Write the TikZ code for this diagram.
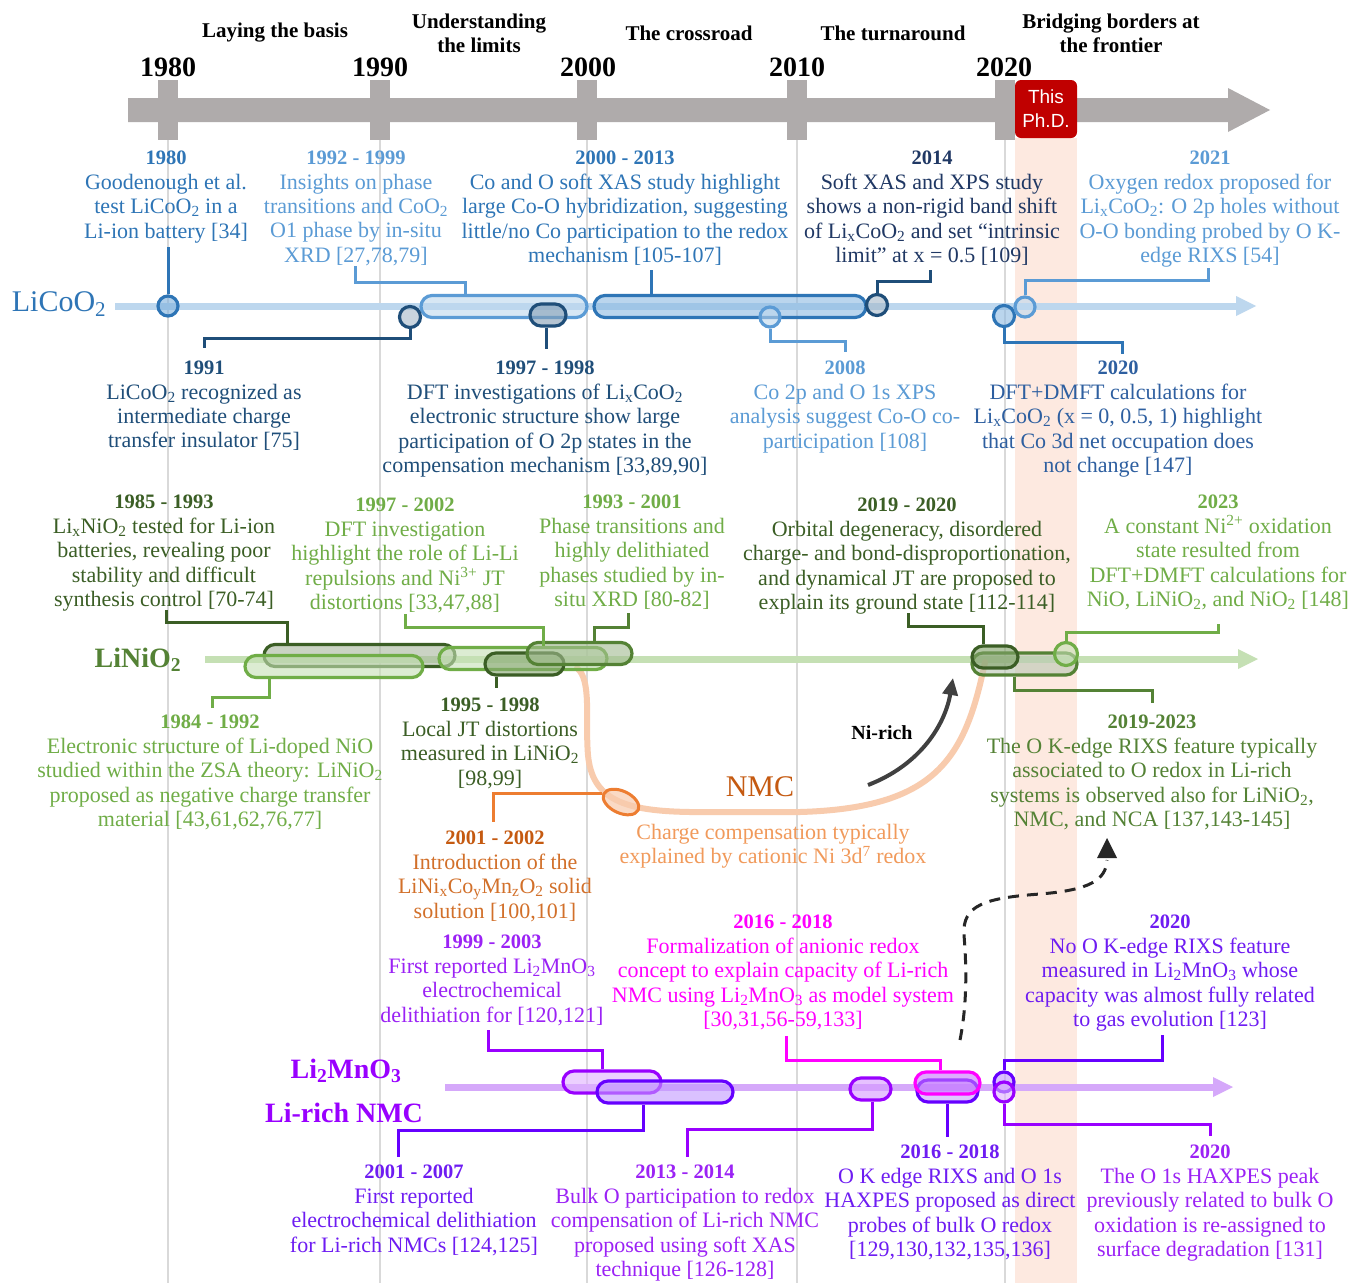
\documentclass[tikz,border=0pt]{standalone}
\usepackage{fontspec}
\setmainfont{Liberation Serif}
\newfontfamily\sansf{Liberation Sans}
\usetikzlibrary{arrows.meta,shapes.misc,shapes.geometric}
\definecolor{gry}{HTML}{AFABAB}
\definecolor{gridc}{HTML}{D9D9D9}
\definecolor{phdred}{HTML}{C00000}
\definecolor{band}{HTML}{FDE9E0}
\definecolor{bA}{HTML}{2E75B6}
\definecolor{bN}{HTML}{1F4E79}
\definecolor{bL}{HTML}{5B9BD5}
\definecolor{bLine}{HTML}{BDD7EE}
\definecolor{bT}{HTML}{203864}
\definecolor{bM}{HTML}{2E5FA0}
\definecolor{gD}{HTML}{3B5E25}
\definecolor{gM}{HTML}{548235}
\definecolor{gL}{HTML}{70AD47}
\definecolor{gLine}{HTML}{C5E0B4}
\definecolor{oS}{HTML}{ED7D31}
\definecolor{oD}{HTML}{C55A11}
\definecolor{oB}{HTML}{D2702A}
\definecolor{oC}{HTML}{F8CBAD}
\definecolor{oT}{HTML}{F19A5B}
\definecolor{pV}{HTML}{9900FF}
\definecolor{pB}{HTML}{6600FF}
\definecolor{pM}{HTML}{FF00FF}
\definecolor{pLine}{HTML}{D5A8FA}
\definecolor{pVt}{HTML}{9B22F5}
\definecolor{pBt}{HTML}{6E1CF2}
\definecolor{arr}{HTML}{404040}
\newcommand{\yr}[1]{{\fontsize{20.5}{24.4}\selectfont\bfseries #1}}
\begin{document}
\begin{tikzpicture}[x=1pt,y=-1pt,
  txt/.style={align=center, inner sep=0pt, anchor=north, yshift=-3pt, font=\fontsize{22}{24.4}\selectfont},
  era/.style={align=center, inner sep=0pt, font=\fontsize{21}{24}\selectfont\bfseries},
  bigyr/.style={inner sep=0pt, font=\fontsize{28}{28}\selectfont\bfseries},
  cap/.style 2 args={rounded rectangle, draw=#1, fill=#2, fill opacity=0.6, line width=3.2pt, inner sep=0pt, minimum height=22pt},
  dot/.style 2 args={circle, draw=#1, fill=#2, fill opacity=0.6, line width=3.2pt, inner sep=0pt, minimum size=20pt},
  conn/.style={line width=3pt},
  rowlab/.style={inner sep=0pt}
]
\useasboundingbox (0,0) rectangle (1361,1283);
\fill[white] (0,0) rectangle (1361,1283);
% pink band
\fill[band] (1015,138) rectangle (1077,1283);
% grid lines
\foreach \gx in {168,380,587,797,1005} \draw[gridc, line width=1.2pt] (\gx,140) -- (\gx,1283);
% main timeline
\fill[gry] (128,98) -- (1228,98) -- (1228,88) -- (1270,110) -- (1228,132) -- (1228,122) -- (128,122) -- cycle;
\foreach \gx in {168,380,587,797,1005} \fill[gry] (\gx-10,80) rectangle (\gx+10,140);
\node[fill=phdred, rounded corners=6pt, minimum width=62pt, minimum height=58pt, inner sep=0pt, text=white, align=center, font=\sansf\fontsize{19}{24}\selectfont] (phd) at (1046,109) {This\\Ph.D.};
% eras and years
\node[era] (e1) at (275,33) {Laying the basis};
\node[era] (e2) at (479,33) {Understanding\\the limits};
\node[era] (e3) at (689,33) {The crossroad};
\node[era] (e4) at (893,33) {The turnaround};
\node[era] (e5) at (1111,33) {Bridging borders at\\the frontier};
\node[bigyr] (y1) at (168,67) {1980};
\node[bigyr] (y2) at (380,67) {1990};
\node[bigyr] (y3) at (588,67) {2000};
\node[bigyr] (y4) at (797,67) {2010};
\node[bigyr] (y5) at (1004,67) {2020};

% ===== LiCoO2 row =====
\draw[bLine, line width=7pt] (115,306) -- (1238,306);
\fill[bLine] (1236,296) -- (1256,306) -- (1236,316) -- cycle;
\node[rowlab, text=bA, font=\fontsize{30}{30}\selectfont] (lLCO) at (59,304) {LiCoO\textsubscript{2}};
\node[cap={bL}{bLine}, minimum width=166pt] (c9299) at (504,306.5) {};
\node[cap={bA}{bL!70}, minimum width=272pt] (c0013) at (730,306.5) {};
\node[cap={bN}{bN!55}, minimum width=36pt] (c9798) at (548,315) {};
\node[dot={bA}{bL!80}] (c80) at (168,306) {};
\node[dot={bN}{bN!40}, minimum size=21pt] (c91) at (410,317) {};
\node[dot={bL}{bLine}] (c08) at (770,317) {};
\node[dot={bN}{bN!40}, minimum size=21pt] (c14) at (877,305) {};
\node[dot={bA}{bL!70}, minimum size=21pt] (c20) at (1004,316) {};
\node[dot={bL}{bLine}] (c21) at (1025,307) {};
\draw[conn,bA] (c80.north) -- (168,247);
\draw[conn,bL] (c9299.north -| 465,0) |- (355,282) -- (355,266);
\draw[conn,bA] (c0013.north -| 651,0) -- (651,270);
\draw[conn,bN] (c91.south) |- (204,338) -- (204,348);
\draw[conn,bN] (c9798.south -| 546,0) -- (546,349);
\draw[conn,bL] (c08.south) |- (845,341) -- (845,352);
\draw[conn,bN] (c14.north) |- (930,281) -- (930,270);
\draw[conn,bA] (c20.south) |- (1122,342) -- (1122,354);
\draw[conn,bL] (c21.north) |- (1208,280) -- (1208,268);
\node[txt,text=bA] (t1980) at (166,148) {\yr{1980}\\Goodenough et al.\\test LiCoO\textsubscript{2} in a\\Li-ion battery [34]};
\node[txt,text=bL] (t9299) at (356,148) {\yr{1992 - 1999}\\Insights on phase\\transitions and CoO\textsubscript{2}\\O1 phase by in-situ\\XRD [27,78,79]};
\node[txt,text=bA] (t0013) at (625,148) {\yr{2000 - 2013}\\Co and O soft XAS study highlight\\large Co-O hybridization, suggesting\\little/no Co participation to the redox\\mechanism [105-107]};
\node[txt,text=bT] (t2014) at (932,148) {\yr{2014}\\Soft XAS and XPS study\\shows a non-rigid band shift\\of Li\textsubscript{x}CoO\textsubscript{2} and set “intrinsic\\limit” at x = 0.5 [109]};
\node[txt,text=bL] (t2021) at (1210,148) {\yr{2021}\\Oxygen redox proposed for\\Li\textsubscript{x}CoO\textsubscript{2}: O 2p holes without\\O-O bonding probed by O K-\\edge RIXS [54]};
\node[txt,text=bN] (t1991) at (204,358) {\yr{1991}\\LiCoO\textsubscript{2} recognized as\\intermediate charge\\transfer insulator [75]};
\node[txt,text=bN] (t9798) at (545,358) {\yr{1997 - 1998}\\DFT investigations of Li\textsubscript{x}CoO\textsubscript{2}\\electronic structure show large\\participation of O 2p states in the\\compensation mechanism [33,89,90]};
\node[txt,text=bL] (t2008) at (845,358) {\yr{2008}\\Co 2p and O 1s XPS\\analysis suggest Co-O co-\\participation [108]};
\node[txt,text=bM] (t2020) at (1118,358) {\yr{2020}\\DFT+DMFT calculations for\\Li\textsubscript{x}CoO\textsubscript{2} (x = 0, 0.5, 1) highlight\\that Co 3d net occupation does\\not change [147]};

% ===== LiNiO2 row =====
\draw[gLine, line width=7pt] (205,659) -- (1240,659);
\fill[gLine] (1238,649) -- (1258,659) -- (1238,669) -- cycle;
\node[rowlab, text=gM, font=\fontsize{28}{28}\selectfont\bfseries] (lLNO) at (138,660) {LiNiO\textsubscript{2}};
% NMC curve
\draw[oC, line width=6pt, line cap=round] (577,668) .. controls (592,680) and (585,720) .. (588,755) .. controls (592,800) and (625,811) .. (690,812) -- (800,812) .. controls (935,808) and (965,760) .. (985,662);
\node[cap={gD}{gD!45}, minimum width=191pt] (c8593) at (359.5,655.5) {};
\node[cap={gL}{gLine}, minimum width=178pt] (c8492) at (334,666.5) {};
\node[cap={gL}{gLine}, minimum width=168pt] (c9702) at (523,658.5) {};
\node[cap={gD}{gM!70}, minimum width=79pt] (c9598) at (524.5,664) {};
\node[cap={gM}{gM!55}, minimum width=105pt] (c9301) at (579.5,653.5) {};
\node[cap={gM}{gD!35}, minimum width=105pt] (c1923) at (1024.5,664) {};
\node[cap={gD}{gM!75}, minimum width=46pt] (c1920) at (995,657) {};
\node[dot={gL}{gLine}, minimum size=23pt] (c23) at (1066,654) {};
\draw[conn,gD] (c8593.north -| 287,0) |- (166,622) -- (166,610);
\draw[conn,gL] (c8492.south -| 269,0) |- (212,697) -- (212,708);
\draw[conn,gL] (c9702.north -| 543,0) |- (405,627) -- (405,614);
\draw[conn,gD] (c9598.south -| 496,0) -- (496,688);
\draw[conn,gM] (c9301.north -| 594,0) |- (628,627) -- (628,613);
\draw[conn,gD] (c1920.north -| 983,0) |- (908,626) -- (908,613);
\draw[conn,gM] (c1923.south -| 1014,0) |- (1152,690) -- (1152,703);
\draw[conn,gL] (c23.north) |- (1218,632) -- (1218,624);
\node[txt,text=gD] (t8593) at (164,492) {\yr{1985 - 1993}\\Li\textsubscript{x}NiO\textsubscript{2} tested for Li-ion\\batteries, revealing poor\\stability and difficult\\synthesis control [70-74]};
\node[txt,text=gL] (t9702) at (405,495) {\yr{1997 - 2002}\\DFT investigation\\highlight the role of Li-Li\\repulsions and Ni\textsuperscript{3+} JT\\distortions [33,47,88]};
\node[txt,text=gL] (t9301) at (632,492) {\yr{1993 - 2001}\\Phase transitions and\\highly delithiated\\phases studied by in-\\situ XRD [80-82]};
\node[txt,text=gD] (t1920) at (907,495) {\yr{2019 - 2020}\\Orbital degeneracy, disordered\\charge- and bond-disproportionation,\\and dynamical JT are proposed to\\explain its ground state [112-114]};
\node[txt,text=gL] (t2023) at (1218,492) {\yr{2023}\\A constant Ni\textsuperscript{2+} oxidation\\state resulted from\\DFT+DMFT calculations for\\NiO, LiNiO\textsubscript{2}, and NiO\textsubscript{2} [148]};
\node[txt,text=gL] (t8492) at (210,712) {\yr{1984 - 1992}\\Electronic structure of Li-doped NiO\\studied within the ZSA theory: LiNiO\textsubscript{2}\\proposed as negative charge transfer\\material [43,61,62,76,77]};
\node[txt,text=gD] (t9598) at (490,695) {\yr{1995 - 1998}\\Local JT distortions\\measured in LiNiO\textsubscript{2}\\{[}98,99]};
\node[txt,text=gM] (t1923) at (1152,712) {\yr{2019-2023}\\The O K-edge RIXS feature typically\\associated to O redox in Li-rich\\systems is observed also for LiNiO\textsubscript{2},\\NMC, and NCA [137,143-145]};

% ===== NMC =====
\node[ellipse, draw=oS, fill=oC, fill opacity=0.7, line width=3pt, minimum width=38pt, minimum height=22pt, inner sep=0pt, rotate=-25] (e0102) at (621,802) {};
\draw[conn,oS] (e0102.west) -- (493,0 |- e0102.west) -- (493,822);
\node[rowlab, text=oD, font=\fontsize{30}{30}\selectfont] (lNMC) at (760,787) {NMC};
\node[rowlab, text=black, font=\fontsize{20}{20}\selectfont\bfseries] (lNir) at (882,733) {Ni-rich};
\coordinate (nrs) at (868,785);
\coordinate (nre) at (953,678);
\draw[arr, line width=4pt, -{Triangle[length=17pt,width=15pt]}] (nrs) .. controls (920,765) and (945,725) .. (nre);
\node[txt,text=oB] (t0102) at (495,828) {{\color{oD}\yr{2001 - 2002}}\\Introduction of the\\LiNi\textsubscript{x}Co\textsubscript{y}Mn\textsubscript{z}O\textsubscript{2} solid\\solution [100,101]};
\node[txt,text=oT] (tcc) at (773,821) {Charge compensation typically\\explained by cationic Ni 3d\textsuperscript{7} redox};

% ===== Li2MnO3 row =====
\draw[pLine, line width=7pt] (445,1087) -- (1215,1087);
\fill[pLine] (1213,1077) -- (1233,1087) -- (1213,1097) -- cycle;
\node[rowlab, text=pV, font=\fontsize{28}{28}\selectfont\bfseries] (lLMO) at (346,1071) {Li\textsubscript{2}MnO\textsubscript{3}};
\node[rowlab, text=pV, font=\fontsize{28}{28}\selectfont\bfseries] (lLR) at (344,1113) {Li-rich NMC};
\node[cap={pV}{pV!30}, minimum width=98pt] (c9903) at (612,1082) {};
\node[cap={pB}{pB!40}, minimum width=136pt] (c0107) at (665,1092) {};
\node[cap={pV}{pV!40}, minimum width=41pt] (c1314) at (870.5,1089) {};
\node[cap={pB}{pB!35}, minimum width=61pt] (c1618b) at (947.5,1091) {};
\node[cap={pM}{pV!55}, minimum width=65pt] (c1618m) at (947.5,1083) {};
\node[dot={pB}{pB!40}] (c20a) at (1004,1082) {};
\node[dot={pV}{pV!30}] (c20b) at (1004,1092) {};
\draw[conn,pV] (c9903.north -| 602,0) |- (488,1050) -- (488,1030);
\draw[conn,pB] (c0107.south -| 643,0) |- (398,1130) -- (398,1157);
\draw[conn,pV] (c1314.south -| 872,0) |- (687,1129) -- (687,1157);
\draw[conn,pB] (c1618b.south -| 947,0) -- (947,1137);
\draw[conn,pM] (c1618m.north -| 940,0) |- (786,1060) -- (786,1036);
\draw[conn,pB] (c20a.north) |- (1162,1060) -- (1162,1035);
\draw[conn,pV] (c20b.south) |- (1210,1124) -- (1210,1136);
% dashed arrow
\coordinate (dsA) at (960,1040);
\coordinate (dsB) at (1107,860);
\draw[black!85, line width=3pt, dash pattern=on 11pt off 8pt] (dsA) .. controls (968,1000) and (966,960) .. (964,935) .. controls (962,905) and (985,898) .. (1040,894) .. controls (1090,890) and (1106,880) .. (dsB);
\fill[black!85] (1097,858) -- (1117,858) -- (1107,838) -- cycle;
\node[txt,text=pVt] (t9903) at (492,932) {\yr{1999 - 2003}\\First reported Li\textsubscript{2}MnO\textsubscript{3}\\electrochemical\\delithiation for [120,121]};
\node[txt,text=pM] (t1618t) at (783,912) {\yr{2016 - 2018}\\Formalization of anionic redox\\concept to explain capacity of Li-rich\\NMC using Li\textsubscript{2}MnO\textsubscript{3} as model system\\{[}30,31,56-59,133]};
\node[txt,text=pBt] (t2020t) at (1170,912) {\yr{2020}\\No O K-edge RIXS feature\\measured in Li\textsubscript{2}MnO\textsubscript{3} whose\\capacity was almost fully related\\to gas evolution [123]};
\node[txt,text=pBt] (t0107) at (414,1162) {\yr{2001 - 2007}\\First reported\\electrochemical delithiation\\for Li-rich NMCs [124,125]};
\node[txt,text=pVt] (t1314) at (685,1162) {\yr{2013 - 2014}\\Bulk O participation to redox\\compensation of Li-rich NMC\\proposed using soft XAS\\technique [126-128]};
\node[txt,text=pBt] (t1618b) at (950,1142) {\yr{2016 - 2018}\\O K edge RIXS and O 1s\\HAXPES proposed as direct\\probes of bulk O redox\\{[}129,130,132,135,136]};
\node[txt,text=pVt] (t2020b) at (1210,1142) {\yr{2020}\\The O 1s HAXPES peak\\previously related to bulk O\\oxidation is re-assigned to\\surface degradation [131]};
\end{tikzpicture}
\end{document}
